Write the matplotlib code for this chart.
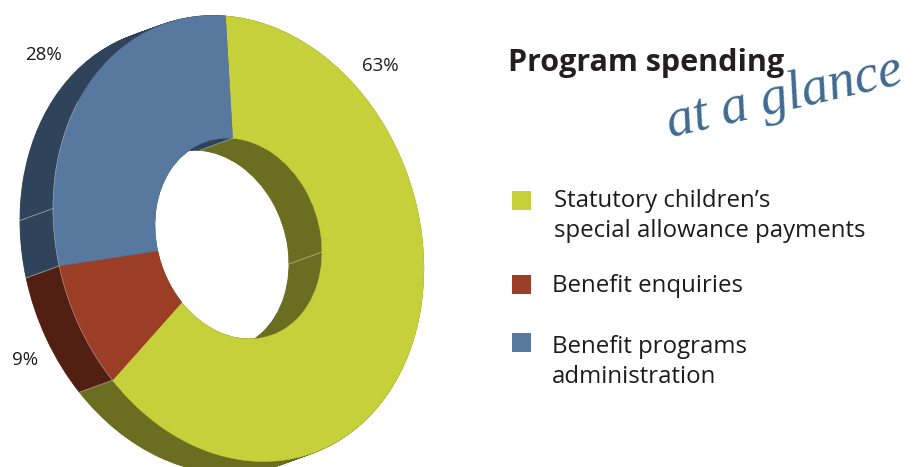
import numpy as np
import matplotlib
matplotlib.use("Agg")
import matplotlib.pyplot as plt
from matplotlib.patches import Wedge, Rectangle
from matplotlib.transforms import Affine2D

# spending shares, clockwise from the top of the ring
names = ["Statutory children’s\nspecial allowance payments", "Benefit enquiries",
         "Benefit programs\nadministration"]
shares = [63, 9, 28]
pct_labels = ["63%", "9%", "28%"]
face_cols = ["#c6d03a", "#9c3d25", "#58799f"]
side_cols = ["#6b6e20", "#522013", "#2f445a"]

plt.rcParams['font.family'] = ['Open Sans', 'DejaVu Sans']
fig = plt.figure(figsize=(9.13, 4.67), dpi=100)
ax = fig.add_axes([0, 0, 1, 1])
ax.set_xlim(0, 913)
ax.set_ylim(467, 0)
ax.axis("off")

# tilted disc: unit circle -> pixel space
cx, cy = 238.5, 238.5
rx, ry, tilt = 185.5, 221, 30
depth_x, depth_y = -33, 12
hole = 0.45
start = 94


def ring_tf(f=0.0):
    mat = [[rx, 0, cx + depth_x * f], [tilt, -ry, cy + depth_y * f], [0, 0, 1]]
    return Affine2D(np.array(mat, dtype=float))


def ring_xy(theta, r=1.0, f=0.0):
    t = np.radians(theta)
    return ring_tf(f).transform(np.column_stack([r * np.cos(t), r * np.sin(t)]))


# slice angles from the values
ends = start - np.cumsum(shares) / sum(shares) * 360
begins = np.r_[start, ends[:-1]]

# stacked copies make the side walls, back to front
for f in np.linspace(1, 0.01, 45):
    for b, e, c in zip(begins, ends, side_cols):
        ax.add_patch(Wedge((0, 0), 1, e, b, width=1 - hole, fc=c, ec=c, lw=0.6,
                           transform=ring_tf(f) + ax.transData))

# top face
for b, e, c in zip(begins, ends, face_cols):
    ax.add_patch(Wedge((0, 0), 1, e, b, width=1 - hole, fc=c, ec=c, lw=0.3,
                       transform=ring_tf(0) + ax.transData))

# thin seams on the walls
seams = [(e, 1.0) for e in ends[:2]] + [(180, 1.0), (0, hole), (start, hole)]
for th, r in seams:
    p0 = ring_xy(np.array([th]), r, 0)[0]
    p1 = ring_xy(np.array([th]), r, 1)[0]
    ax.plot([p0[0], p1[0]], [p0[1], p1[1]], color="#c9c9c0", lw=0.6, alpha=0.7)
arc = ring_xy(np.linspace(150, 227, 60), 1.0, 0)
ax.plot(arc[:, 0], arc[:, 1], color="#c9c9c9", lw=0.5, alpha=0.6)

# percentages beside the ring
pct_pos = [(380, 66), (25, 360), (43, 55)]
for txt, (x, y) in zip(pct_labels, pct_pos):
    ax.text(x, y, txt, fontsize=13.5, color="#1c1c1c", ha="center", va="center")

ax.text(508, 63, "Program spending", fontsize=22, fontweight="bold", color="#231f20",
        ha="left", va="center")
ax.text(785, 97, "at a glance", fontsize=39, style="italic", family="Liberation Serif",
        color="#3f6a92", ha="center", va="center", rotation=13, rotation_mode="anchor")

# legend
box_y = [191, 275, 333]
text_x = [554, 552, 552]
text_y = [216, 286, 362]
for name, c, by, tx, ty in zip(names, face_cols, box_y, text_x, text_y):
    ax.add_patch(Rectangle((512, by), 19, 19, fc=c, ec="none"))
    ax.text(tx, ty, name, fontsize=17.3, color="#1c1c1c", ha="left", va="center",
            linespacing=1.35)

fig.savefig("out.png", dpi=100)
